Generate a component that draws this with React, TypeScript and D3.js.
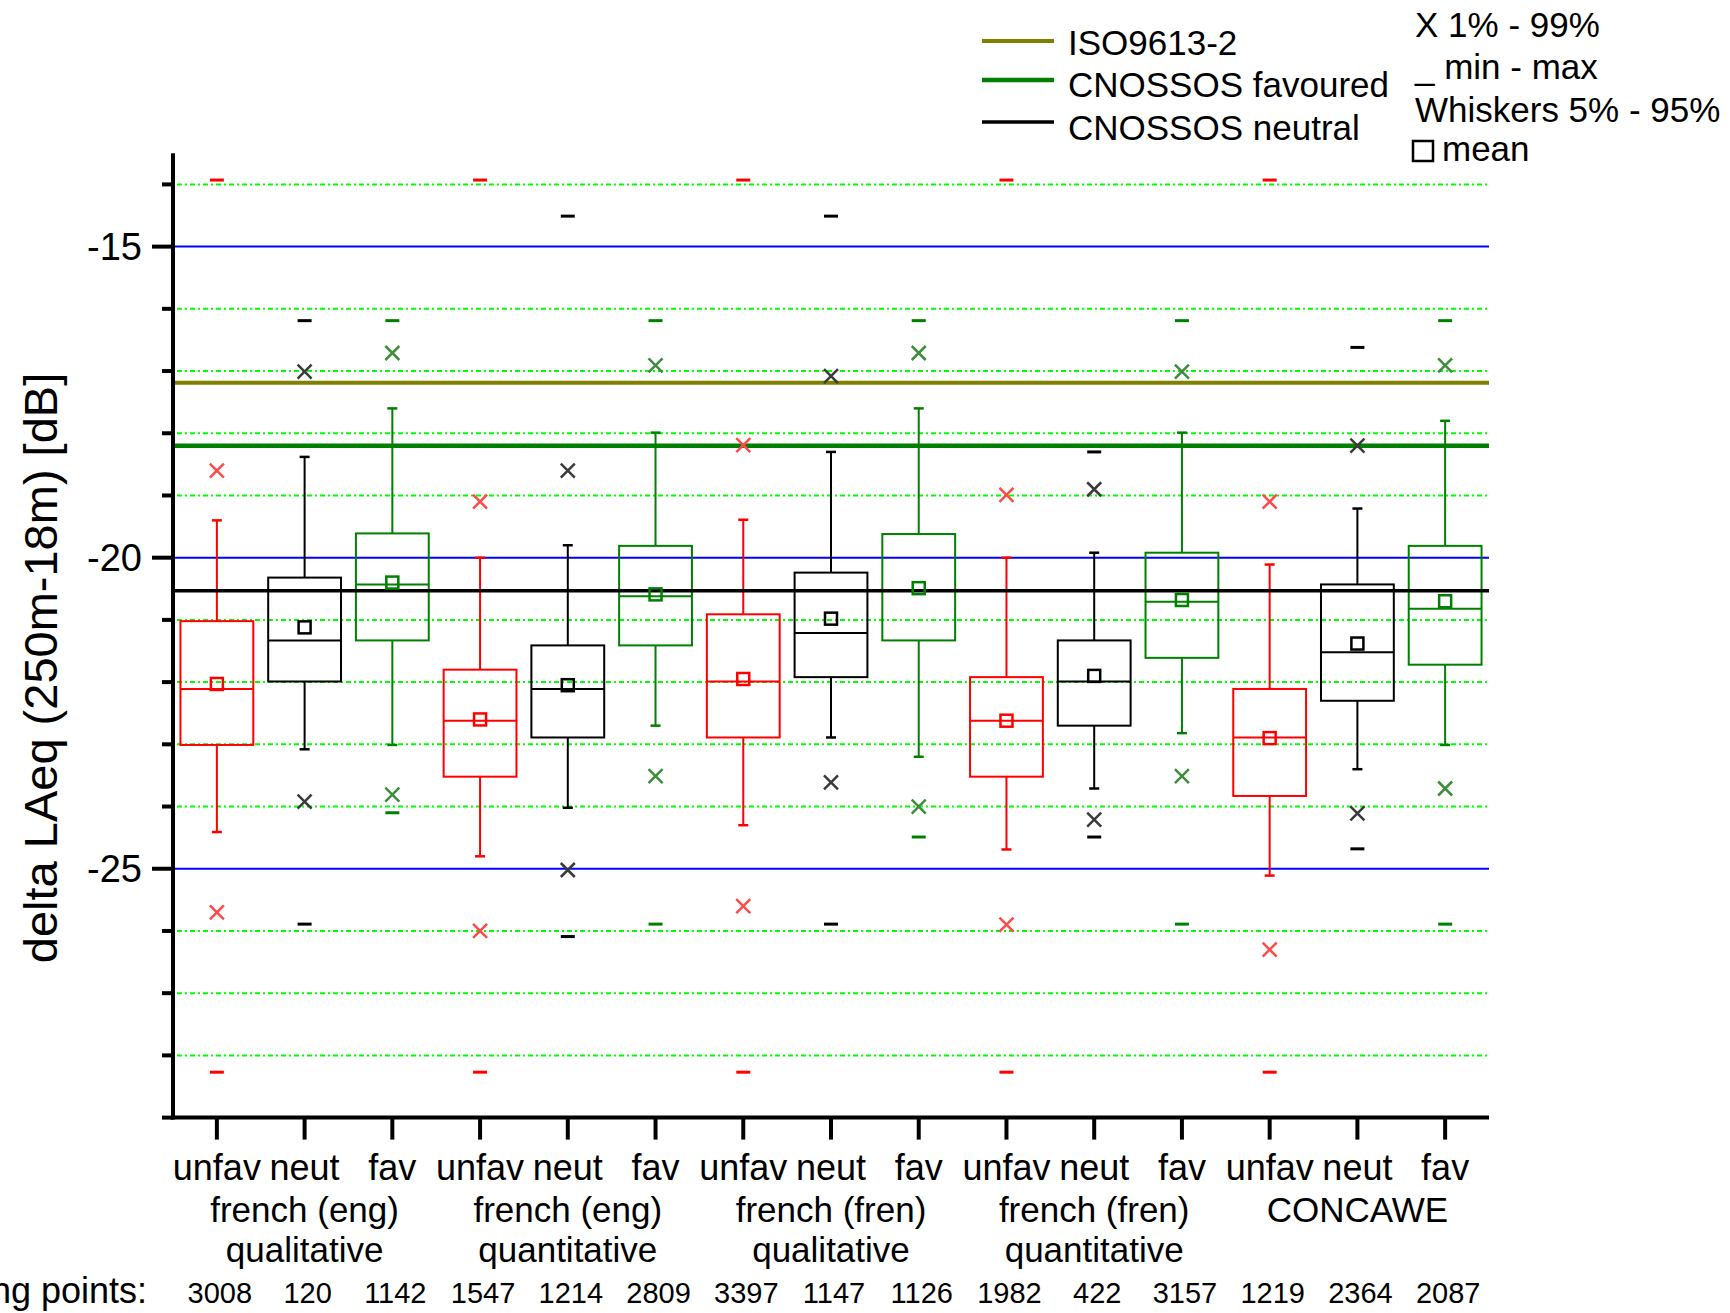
import React from "react";
import * as d3 from "d3";

// one entry per box, left to right
const categories = [
  "unfav", "neut", "fav", "unfav", "neut", "fav", "unfav", "neut", "fav",
  "unfav", "neut", "fav", "unfav", "neut", "fav",
];
const groupLine1 = ["french (eng)", "french (eng)", "french (fren)", "french (fren)", "CONCAWE"];
const groupLine2 = ["qualitative", "quantitative", "qualitative", "quantitative", ""];
const counts = [3008, 120, 1142, 1547, 1214, 2809, 3397, 1147, 1126, 1982, 422, 3157, 1219, 2364, 2087];

const pct1 = [-25.7, -23.92, -23.81, -26.0, -25.02, -23.51, -25.6, -23.61, -24.0, -25.9, -24.21, -23.51, -26.3, -24.11, -23.71];
const pct5 = [-24.41, -23.08, -23.01, -24.8, -24.02, -22.7, -24.3, -22.89, -23.2, -24.69, -23.71, -22.82, -25.11, -23.4, -23.01];
const q1 = [-23.01, -21.99, -21.33, -23.52, -22.89, -21.41, -22.89, -21.92, -21.33, -23.52, -22.7, -21.61, -23.83, -22.3, -21.72];
const medians = [-22.11, -21.33, -20.43, -22.62, -22.11, -20.62, -21.99, -21.21, -20.52, -22.62, -21.99, -20.71, -22.89, -21.52, -20.82];
const means = [-22.03, -21.12, -20.4, -22.6, -22.05, -20.59, -21.95, -20.98, -20.49, -22.62, -21.9, -20.68, -22.9, -21.38, -20.7];
const q3 = [-21.02, -20.32, -19.61, -21.8, -21.41, -19.81, -20.91, -20.24, -19.62, -21.92, -21.33, -19.92, -22.11, -20.43, -19.81];
const pct95 = [-19.4, -18.38, -17.6, -20.0, -19.8, -17.99, -19.39, -18.3, -17.6, -20.0, -19.92, -17.99, -20.11, -19.21, -17.8];
const pct99 = [-18.6, -17.01, -16.71, -19.1, -18.6, -16.91, -18.19, -17.08, -16.71, -18.99, -18.9, -17.01, -19.1, -18.2, -16.91];
const mins = [-28.27, -25.89, -24.1, -28.27, -26.09, -25.89, -28.27, -25.89, -24.49, -28.27, -24.49, -25.89, -28.27, -24.68, -25.89];
const maxs = [-13.93, -16.19, -16.19, -13.93, -14.51, -16.19, -13.93, -14.51, -16.19, -13.93, -18.3, -16.19, -13.93, -16.62, -16.19];

const refNames = ["ISO9613-2", "CNOSSOS favoured", "CNOSSOS neutral"];
const refValues = [-17.19, -18.2, -20.53];

const yTickLabels = [-25, -20, -15];

const boxColor: Record<string, string> = { unfav: "#ff0000", neut: "#000000", fav: "#008000" };
const crossColor: Record<string, string> = { unfav: "#ff4a4a", neut: "#3a3a3a", fav: "#3d8d3d" };
const refColors = ["#808000", "#008000", "#000000"];
const refWidths = [4, 4.5, 3.5];

const FONT = "'Liberation Sans', Arial, Helvetica, sans-serif";

export default function App() {
  const W = 1730, H = 1313;
  const left = 173, right = 1489, top = 153.3, bottom = 1117.6;

  const idx = d3.range(categories.length);
  const x = d3.scaleBand<number>().domain(idx).range([left, right]).padding(0);
  const y = d3.scaleLinear().domain([-29, -13.5]).range([bottom, top]);

  const cx = (i: number) => (x(i) as number) + x.bandwidth() / 2;
  const boxW = x.bandwidth() * 0.83;
  const capW = 10, dashW = 14, ms = 12, xs = 7;

  const gridVals = d3.range(-28, -13).filter((v) => v % 5 !== 0);
  const majorVals = d3.range(-25, -14, 5);
  const tickVals = d3.range(-29, -13);

  return (
    <svg width={W} height={H} style={{ position: "absolute", left: 0, top: 0, background: "#fff" }}
      fontFamily={FONT}>
      {/* grid */}
      {gridVals.map((v) => (
        <line key={"g" + v} x1={left + 4} x2={right} y1={y(v)} y2={y(v)}
          stroke="#00ff00" strokeWidth={2} strokeDasharray="5,3,2,3" />
      ))}
      {majorVals.map((v) => (
        <line key={"b" + v} x1={left} x2={right} y1={y(v)} y2={y(v)} stroke="#0000ff" strokeWidth={2} />
      ))}

      {/* boxes */}
      {idx.map((i) => {
        const c = boxColor[categories[i]];
        const xc = cx(i);
        return (
          <g key={"box" + i} stroke={c} fill="none" strokeWidth={2}>
            <line x1={xc} x2={xc} y1={y(pct95[i])} y2={y(q3[i])} />
            <line x1={xc} x2={xc} y1={y(q1[i])} y2={y(pct5[i])} />
            <line x1={xc - capW / 2} x2={xc + capW / 2} y1={y(pct95[i])} y2={y(pct95[i])} strokeWidth={2.5} />
            <line x1={xc - capW / 2} x2={xc + capW / 2} y1={y(pct5[i])} y2={y(pct5[i])} strokeWidth={2.5} />
            <rect x={xc - boxW / 2} y={y(q3[i])} width={boxW} height={y(q1[i]) - y(q3[i])} />
            <line x1={xc - boxW / 2} x2={xc + boxW / 2} y1={y(medians[i])} y2={y(medians[i])} />
            <line x1={xc - dashW / 2} x2={xc + dashW / 2} y1={y(maxs[i])} y2={y(maxs[i])} strokeWidth={3} />
            <line x1={xc - dashW / 2} x2={xc + dashW / 2} y1={y(mins[i])} y2={y(mins[i])} strokeWidth={3} />
          </g>
        );
      })}

      {/* reference lines */}
      {refValues.map((v, k) => (
        <line key={"r" + k} x1={left} x2={right} y1={y(v)} y2={y(v)}
          stroke={refColors[k]} strokeWidth={refWidths[k]} />
      ))}

      {/* mean squares and 1%/99% crosses */}
      {idx.map((i) => {
        const c = boxColor[categories[i]];
        const xc = cx(i);
        return (
          <g key={"m" + i}>
            <rect x={xc - ms / 2} y={y(means[i]) - ms / 2} width={ms} height={ms}
              fill="none" stroke={c} strokeWidth={2.5} />
            {[pct1[i], pct99[i]].map((v, k) => (
              <path key={k} d={`M${xc - xs},${y(v) - xs}L${xc + xs},${y(v) + xs}M${xc - xs},${y(v) + xs}L${xc + xs},${y(v) - xs}`}
                stroke={crossColor[categories[i]]} strokeWidth={2.5} fill="none" />
            ))}
          </g>
        );
      })}

      {/* axes */}
      <line x1={left} x2={left} y1={top} y2={bottom + 2} stroke="#000" strokeWidth={4} />
      <line x1={left - 2} x2={right} y1={bottom} y2={bottom} stroke="#000" strokeWidth={4} />
      {tickVals.map((v) => (
        <line key={"yt" + v} x1={v % 5 === 0 ? left - 21 : left - 11} x2={left} y1={y(v)} y2={y(v)}
          stroke="#000" strokeWidth={4} />
      ))}
      {yTickLabels.map((v) => (
        <text key={"yl" + v} x={142} y={y(v)} dy="0.36em" textAnchor="end" fontSize={38}>{v}</text>
      ))}
      {idx.map((i) => (
        <line key={"xt" + i} x1={cx(i)} x2={cx(i)} y1={bottom} y2={bottom + 22} stroke="#000" strokeWidth={4} />
      ))}
      {idx.map((i) => (
        <text key={"xl" + i} x={cx(i)} y={1180} textAnchor="middle" fontSize={36}>{categories[i]}</text>
      ))}
      {groupLine1.map((g, k) => (
        <text key={"gl1" + k} x={cx(k * 3 + 1)} y={1222} textAnchor="middle" fontSize={35}>{g}</text>
      ))}
      {groupLine2.map((g, k) => (
        <text key={"gl2" + k} x={cx(k * 3 + 1)} y={1262} textAnchor="middle" fontSize={35}>{g}</text>
      ))}
      {counts.map((n, i) => (
        <text key={"n" + i} x={cx(i) + 3} y={1303} textAnchor="middle" fontSize={29}>{n}</text>
      ))}
      <text x={147} y={1303} textAnchor="end" fontSize={36}>measuring points:</text>

      <text transform={`translate(40,${668}) rotate(-90)`} textAnchor="middle" dy="0.36em" fontSize={47}>
        delta LAeq (250m-18m) [dB]
      </text>

      {/* legend: reference lines */}
      {refNames.map((name, k) => {
        const ly = [41, 80, 122][k];
        return (
          <g key={"lg" + k}>
            <line x1={982} x2={1054} y1={ly} y2={ly} stroke={refColors[k]} strokeWidth={refWidths[k]} />
            <text x={1068} y={[55, 97, 140][k]} fontSize={35}>{name}</text>
          </g>
        );
      })}

      {/* legend: box description */}
      <text x={1415} y={37} fontSize={35}>X 1% - 99%</text>
      <text x={1415} y={79} fontSize={35}>_ min - max</text>
      <text x={1415} y={122} fontSize={35}>Whiskers 5% - 95%</text>
      <rect x={1413} y={141} width={20} height={20} fill="none" stroke="#000" strokeWidth={2.5} />
      <text x={1442} y={161} fontSize={35}>mean</text>
    </svg>
  );
}
